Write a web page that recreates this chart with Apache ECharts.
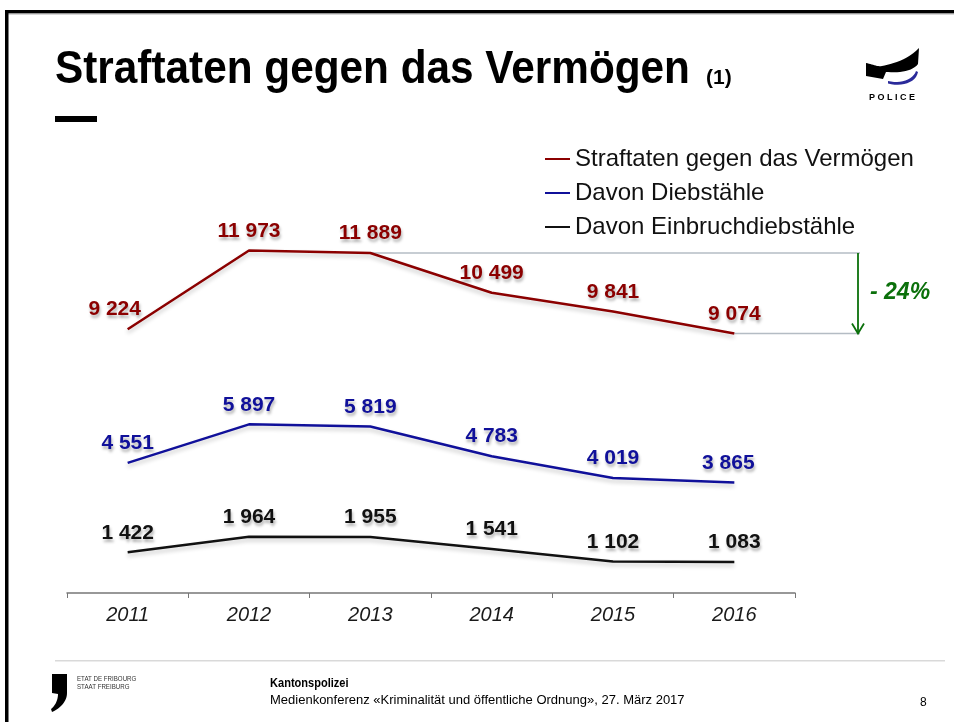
<!DOCTYPE html>
<html>
<head>
<meta charset="utf-8">
<script src="https://cdn.jsdelivr.net/npm/echarts@6/dist/echarts.min.js"></script>
<style>
  html, body { margin: 0; padding: 0; background: #fff; }
  #main { width: 954px; height: 722px; }
</style>
</head>
<body>
<div id="main"></div>
<script>
let years = ["2011", "2012", "2013", "2014", "2015", "2016"];
let seriesNames = ["Straftaten gegen das Vermögen", "Davon Diebstähle", "Davon Einbruchdiebstähle"];
let vermoegen = [9224, 11973, 11889, 10499, 9841, 9074];
let diebstaehle = [4551, 5897, 5819, 4783, 4019, 3865];
let einbruch = [1422, 1964, 1955, 1541, 1102, 1083];
let seriesColors = ["#8B0000", "#10109A", "#111111"];

let fontName = '"Liberation Sans", Arial, sans-serif';
let myChart = echarts.init(document.getElementById("main"));

function fmt(v) {
  return String(v).replace(/\B(?=(\d{3})+(?!\d))/g, " ");
}

// sample a list of segments (lines and cubic curves) into polygon points
function shapePoints(start, segs) {
  let pts = [start];
  let cur = start;
  segs.forEach(function (s) {
    if (s.length === 1) {
      pts.push(s[0]);
      cur = s[0];
    } else {
      for (let k = 1; k <= 12; k++) {
        let t = k / 12, u = 1 - t;
        pts.push([
          u * u * u * cur[0] + 3 * u * u * t * s[0][0] + 3 * u * t * t * s[1][0] + t * t * t * s[2][0],
          u * u * u * cur[1] + 3 * u * u * t * s[0][1] + 3 * u * t * t * s[1][1] + t * t * t * s[2][1],
        ]);
      }
      cur = s[2];
    }
  });
  return pts;
}

function makeSeries(name, values, color, offsets) {
  return {
    type: "line",
    name: name,
    data: values.map(function (v, i) {
      let item = { value: v };
      if (offsets[i]) item.label = { offset: offsets[i] };
      return item;
    }),
    symbol: "circle",
    symbolSize: 0.1,
    itemStyle: { color: color },
    lineStyle: {
      color: color,
      width: 2.5,
      shadowColor: "rgba(0,0,0,0.22)",
      shadowBlur: 4,
      shadowOffsetY: 3,
    },
    label: {
      show: true,
      position: "top",
      distance: 9,
      fontSize: 21,
      fontWeight: "bold",
      fontFamily: fontName,
      color: color,
      textShadowColor: "rgba(0,0,0,0.3)",
      textShadowBlur: 3,
      textShadowOffsetX: 1,
      textShadowOffsetY: 3,
      formatter: function (p) {
        return fmt(p.value);
      },
    },
    emphasis: { disabled: true },
  };
}

let option = {
  animation: false,
  grid: { left: 67, right: 159, top: 164, bottom: 129 },
  legend: {
    data: seriesNames,
    orient: "vertical",
    left: 540,
    top: 142,
    icon: "rect",
    itemWidth: 25,
    itemHeight: 2,
    itemGap: 10,
    textStyle: { fontSize: 24, color: "#111", fontFamily: fontName },
  },
  xAxis: {
    type: "category",
    data: years,
    boundaryGap: true,
    axisLine: { lineStyle: { color: "#777", width: 1.5 } },
    axisTick: { show: true, length: 5, lineStyle: { color: "#777" } },
    axisLabel: {
      fontSize: 20,
      fontStyle: "italic",
      color: "#1a1a1a",
      fontFamily: fontName,
      margin: 12,
    },
  },
  yAxis: { type: "value", min: 0, max: 15000, show: false },
  series: [
    makeSeries(seriesNames[0], vermoegen, seriesColors[0], [[-13, 0]]),
    makeSeries(seriesNames[1], diebstaehle, seriesColors[1], [null, null, null, null, null, [-6, 0]]),
    makeSeries(seriesNames[2], einbruch, seriesColors[2], []),
  ],
};
myChart.setOption(option);

// annotation: change from 2013 to 2016
let pTop = myChart.convertToPixel({ seriesIndex: 0 }, [2, vermoegen[2]]);
let pBottom = myChart.convertToPixel({ seriesIndex: 0 }, [5, vermoegen[5]]);
let maxValue = Math.max.apply(null, vermoegen);
let changeText = "- " + Math.round((1 - vermoegen[5] / maxValue) * 100) + "%";
let green = "#0B700B";
let arrowX = 858;

let policeBand = shapePoints([866, 63], [
  [[872, 64], [877, 67], [882, 66]],
  [[892, 64], [908, 60], [919, 48]],
  [[918, 64]],
  [[913, 71], [900, 73], [888, 72]],
  [[886, 72]],
  [[883, 79]],
  [[866, 76]],
]);
let policeArc = shapePoints([888, 81], [
  [[900, 84], [913, 80], [916, 71]],
  [[918, 72]],
  [[916, 83], [901, 87], [888, 83.5]],
]);
let comma = shapePoints([52, 674], [
  [[67, 674]],
  [[67, 693]],
  [[67, 701], [61, 708], [52, 712]],
  [[51, 709]],
  [[55, 706], [58, 700], [58, 694]],
  [[52, 693]],
]);

let graphics = [
  // slide frame
  { type: "rect", shape: { x: 5, y: 10, width: 949, height: 3.5 }, style: { fill: "#000" } },
  { type: "rect", shape: { x: 8, y: 13.5, width: 946, height: 1 }, style: { fill: "#b0b0b0" } },
  { type: "rect", shape: { x: 5, y: 10, width: 3.5, height: 712 }, style: { fill: "#000" } },
  // title
  {
    type: "text", x: 55, y: 70, scaleX: 0.92,
    style: { text: "Straftaten gegen das Vermögen", font: "bold 46px " + fontName, fill: "#000", verticalAlign: "middle" },
  },
  {
    type: "text", x: 706, y: 78,
    style: { text: "(1)", font: "bold 21px " + fontName, fill: "#000", verticalAlign: "middle" },
  },
  { type: "rect", shape: { x: 55, y: 116, width: 42, height: 6 }, style: { fill: "#000" } },
  // police logo
  { type: "polygon", shape: { points: policeBand }, style: { fill: "#000" } },
  { type: "polygon", shape: { points: policeArc }, style: { fill: "#2a2a9a" } },
  {
    type: "text", x: 892, y: 98,
    style: { text: "P O L I C E", font: "bold 9px " + fontName, fill: "#000", align: "center", verticalAlign: "middle" },
  },
  // annotation
  {
    type: "line", shape: { x1: pTop[0], y1: pTop[1], x2: arrowX + 2, y2: pTop[1] },
    style: { stroke: "#b4bcc4", lineWidth: 1.5 },
  },
  {
    type: "line", shape: { x1: pBottom[0], y1: pBottom[1], x2: arrowX + 2, y2: pBottom[1] },
    style: { stroke: "#b4bcc4", lineWidth: 1.5 },
  },
  {
    type: "line", shape: { x1: arrowX, y1: pTop[1], x2: arrowX, y2: pBottom[1] },
    style: { stroke: green, lineWidth: 1.8 },
  },
  {
    type: "polyline",
    shape: { points: [[arrowX - 6, pBottom[1] - 10], [arrowX, pBottom[1]], [arrowX + 6, pBottom[1] - 10]] },
    style: { stroke: green, lineWidth: 1.8, fill: null },
  },
  {
    type: "text", x: 870, y: (pTop[1] + pBottom[1]) / 2 - 1,
    style: { text: changeText, font: "italic bold 23px " + fontName, fill: green, verticalAlign: "middle" },
  },
  // footer
  { type: "rect", shape: { x: 55, y: 660, width: 890, height: 1.5 }, style: { fill: "#d9d9d9" } },
  { type: "polygon", shape: { points: comma }, style: { fill: "#000" } },
  { type: "text", x: 77, y: 679, scaleX: 0.88, style: { text: "ETAT DE FRIBOURG", font: "7px " + fontName, fill: "#333", verticalAlign: "middle" } },
  { type: "text", x: 77, y: 687, scaleX: 0.88, style: { text: "STAAT FREIBURG", font: "7px " + fontName, fill: "#333", verticalAlign: "middle" } },
  { type: "text", x: 270, y: 683, scaleX: 0.85, style: { text: "Kantonspolizei", font: "bold 13px " + fontName, fill: "#000", verticalAlign: "middle" } },
  {
    type: "text", x: 270, y: 700,
    style: { text: "Medienkonferenz «Kriminalität und öffentliche Ordnung», 27. März 2017", font: "13px " + fontName, fill: "#000", verticalAlign: "middle" },
  },
  { type: "text", x: 920, y: 703, style: { text: "8", font: "12px " + fontName, fill: "#000", verticalAlign: "middle" } },
];

myChart.setOption({ graphic: graphics });
</script>
</body>
</html>
